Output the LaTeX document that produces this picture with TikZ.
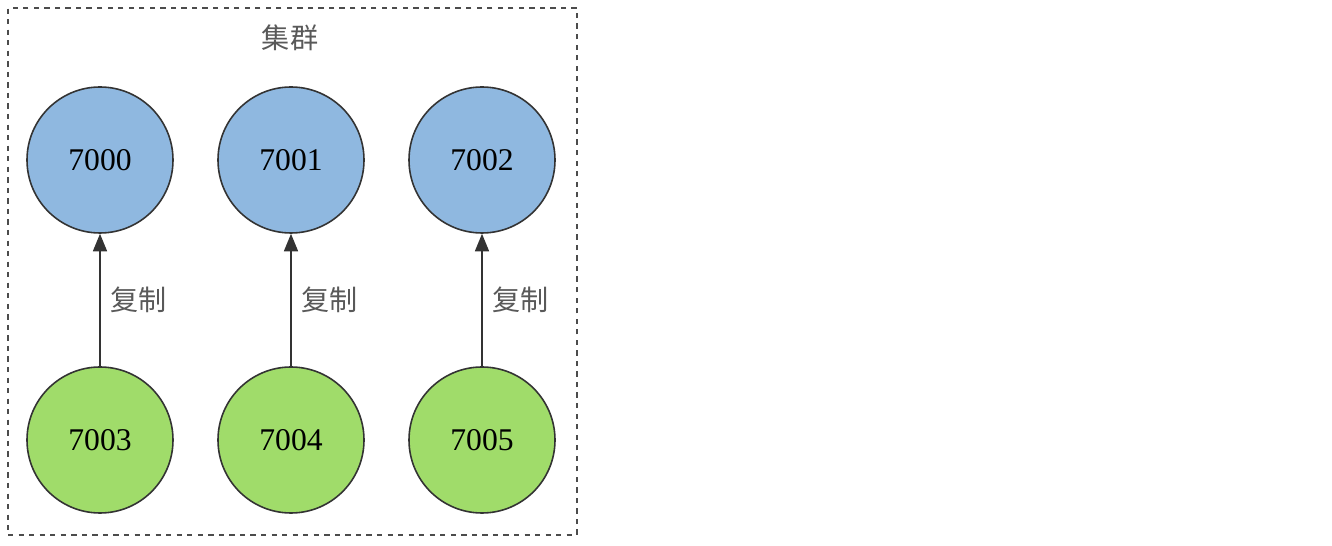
\documentclass[tikz,border=0pt]{standalone}
\usepackage{fontspec}
\setmainfont{Liberation Serif}
\newfontfamily\cjk{Noto Sans CJK SC}
\usetikzlibrary{arrows.meta}
\begin{document}
\begin{tikzpicture}[x=0.02cm,y=-0.02cm,
  nd/.style={circle,draw=black!80,line width=0.9pt,minimum size=146*0.02cm,inner sep=0pt,font=\fontsize{18}{20}\selectfont},
  bl/.style={nd,fill=blue!20!cyan!10!white,fill={rgb,255:red,143;green,184;blue,224}},
  gr/.style={nd,fill={rgb,255:red,160;green,220;blue,106}},
  lbl/.style={font=\cjk\fontsize{16}{18}\selectfont,text=black!65},
  arr/.style={-{Triangle[length=10pt,width=8pt]},line width=0.9pt,draw=black!80}]
\useasboundingbox (0,0) rectangle (1332,546);
\node[draw=black!70,dashed,line width=1.2pt,minimum width=569*0.02cm,minimum height=527*0.02cm,inner sep=0pt] (box) at (292.5,271.5) {};
\node[lbl] (title) at (290,38) {集群};
\foreach \i/\x/\a/\b in {0/100/7000/7003,1/291/7001/7004,2/482/7002/7005}{
  \node[bl] (u\i) at (\x,160) {\a};
  \node[gr] (d\i) at (\x,440) {\b};
  \draw[arr] (d\i) -- node[lbl,right=2pt] (l\i) {复制} (u\i);
}
\end{tikzpicture}
\end{document}
